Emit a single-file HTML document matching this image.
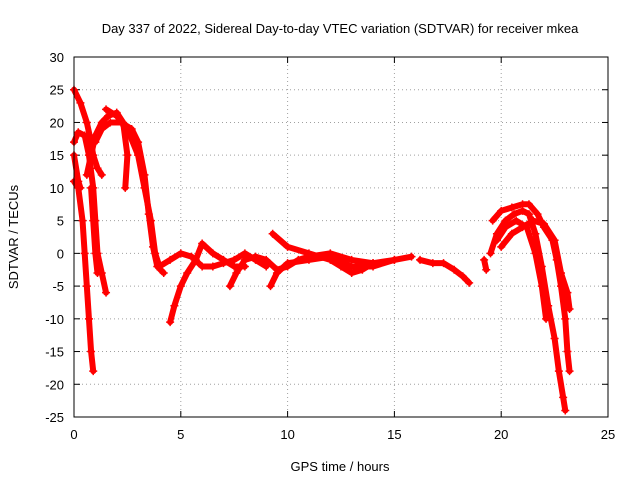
<!DOCTYPE html>
<html><head><meta charset="utf-8"><style>
body{margin:0;background:#fff;}
svg{display:block;font-family:"Liberation Sans",sans-serif;}
</style></head><body>
<svg id="chart" width="640" height="480">
<text x="340" y="33" text-anchor="middle" font-size="13">Day 337 of 2022, Sidereal Day-to-day VTEC variation (SDTVAR) for receiver mkea</text>
<text x="340" y="471" text-anchor="middle" font-size="13">GPS time / hours</text>
<text transform="translate(18,237) rotate(-90)" text-anchor="middle" font-size="13">SDTVAR / TECUs</text>
<g id="grid"></g><g id="ticks"></g><g id="series"></g>
<rect x="74" y="57" width="534" height="360" fill="none" stroke="#000"/>
</svg>
<script>
const xTicks=[0,5,10,15,20,25];
const yTicks=[30,25,20,15,10,5,0,-5,-10,-15,-20,-25];
const s1=[[0,25],[0.3,23],[0.6,20],[0.8,17],[0.9,15],[1.1,13],[1.3,12]];
const s2=[[0,11],[0.2,10],[0.4,5],[0.5,0],[0.6,-5],[0.7,-10],[0.8,-15],[0.9,-18]];
const s3=[[0,15],[0.2,11],[0.3,10]];
const s4=[[0,17],[0.2,18.5],[0.5,18],[0.7,15],[0.9,10],[1.0,5],[1.1,0],[1.3,-3],[1.5,-6]];
const s5=[[0.8,10],[0.9,5],[1.0,0],[1.1,-3]];
const s6=[[0.6,12],[0.8,15],[1.0,18],[1.3,20],[1.6,21],[2.0,21.5],[2.3,20],[2.5,15],[2.4,10]];
const s7=[[1.0,17],[1.3,19],[1.7,20],[2.2,20],[2.7,19],[3.0,17],[3.3,12],[3.5,6],[3.7,1],[3.9,-2],[4.2,-3]];
const s8=[[1.5,22],[2,21],[2.5,19],[3,15],[3.3,10],[3.6,5],[3.8,0],[4,-2]];
const s9=[[4.5,-10.5],[4.7,-8],[5,-5],[5.3,-3],[5.7,-1],[6,1.5],[6.5,0],[7,-1],[7.5,-2],[8,-2]];
const s10=[[4,-2],[4.5,-1],[5,0],[5.5,-0.5],[6,-2],[6.5,-2],[7,-1.5],[7.5,-1],[8,0],[8.5,-1],[9,-2]];
const s11=[[7.3,-5],[7.6,-3],[8,-1],[8.5,-0.5],[9,-1],[9.5,-2.5],[10,-2],[10.5,-1],[11,-0.5],[12,0],[13,-1],[14,-1.5],[15,-1],[15.8,-0.5]];
const s12=[[9.2,-5],[9.5,-3],[10,-1.5],[11,-1],[12,-0.5],[13,-2],[14,-2],[15,-1]];
const s13=[[9.3,3],[10,1],[11,0],[12,-1],[12.5,-2],[13,-3],[13.5,-2.5],[14,-1.5]];
const s14=[[16.2,-1],[16.8,-1.5],[17.3,-1.5],[17.8,-2.5],[18.2,-3.5],[18.5,-4.5]];
const s15=[[19.2,-1],[19.3,-2.5]];
const s16=[[19.5,0],[19.8,3],[20.2,5],[20.6,6],[21,6.5],[21.3,6],[21.6,3],[21.9,-2],[22.2,-8],[22.5,-13],[22.7,-18],[22.9,-22],[23,-24]];
const s17=[[19.6,5],[20,6.5],[20.5,7],[21,7.5],[21.3,7.5],[21.7,6],[22,4],[22.4,2],[22.6,-1],[22.8,-5],[23,-10],[23.1,-15],[23.2,-18]];
const s18=[[19.8,2],[20.2,4],[20.7,5],[21.2,4],[21.6,0],[21.9,-5],[22.1,-10]];
const s19=[[20,1],[20.5,3],[21,4],[21.5,5],[22,4.5],[22.5,2],[22.8,-3],[23.1,-6],[23.2,-8.5]];
const allSeries=[s1,s2,s3,s4,s5,s6,s7,s8,s9,s10,s11,s12,s13,s14,s15,s16,s17,s18,s19];
const X0=74,X1=608,Y0=57,Y1=417;
function xs(v){return X0+(v-0)/(25-0)*(X1-X0);}
function ys(v){return Y1-(v-(-25))/(30-(-25))*(Y1-Y0);}
const NS="http://www.w3.org/2000/svg";
const grid=document.getElementById('grid'),ticks=document.getElementById('ticks'),ser=document.getElementById('series');
function mk(t,a,p){const e=document.createElementNS(NS,t);for(const k in a)e.setAttribute(k,a[k]);p.appendChild(e);return e;}
xTicks.forEach(v=>{const x=xs(v);
 if(v>0&&v<25){const g=mk('line',{x1:x,x2:x,y1:Y0,y2:Y1,stroke:'#a0a0a0','stroke-dasharray':'1,3'},grid);
 
 }
 mk('line',{x1:x,x2:x,y1:Y1,y2:Y1-6,stroke:'#000'},ticks);mk('line',{x1:x,x2:x,y1:Y0,y2:Y0+6,stroke:'#000'},ticks);
 const t=mk('text',{x:x,y:Y1+22,'text-anchor':'middle','font-size':13},ticks);t.textContent=v;
 
 });
yTicks.forEach(v=>{const y=ys(v);
 if(v>-25&&v<30){const g=mk('line',{x1:X0,x2:X1,y1:y,y2:y,stroke:'#a0a0a0','stroke-dasharray':'1,3'},grid);
 
 }
 mk('line',{x1:X0,x2:X0+6,y1:y,y2:y,stroke:'#000'},ticks);mk('line',{x1:X1,x2:X1-6,y1:y,y2:y,stroke:'#000'},ticks);
 const t=mk('text',{x:X0-10,y:y+5,'text-anchor':'end','font-size':13},ticks);t.textContent=v;
 
 });
allSeries.forEach((s,i)=>{
 const pl=mk('polyline',{points:s.map(p=>xs(p[0])+','+ys(p[1])).join(' '),fill:'none',stroke:'#f00','stroke-width':6,'stroke-linejoin':'round','stroke-linecap':'round'},ser);
 
 
 s.forEach(p=>{const x=xs(p[0]),y=ys(p[1]);
  const m=mk('path',{d:`M${x-4},${y}H${x+4}M${x},${y-4}V${y+4}`,stroke:'#f00','stroke-width':1.5},ser);
  
  });
});
</script>
</body></html>
